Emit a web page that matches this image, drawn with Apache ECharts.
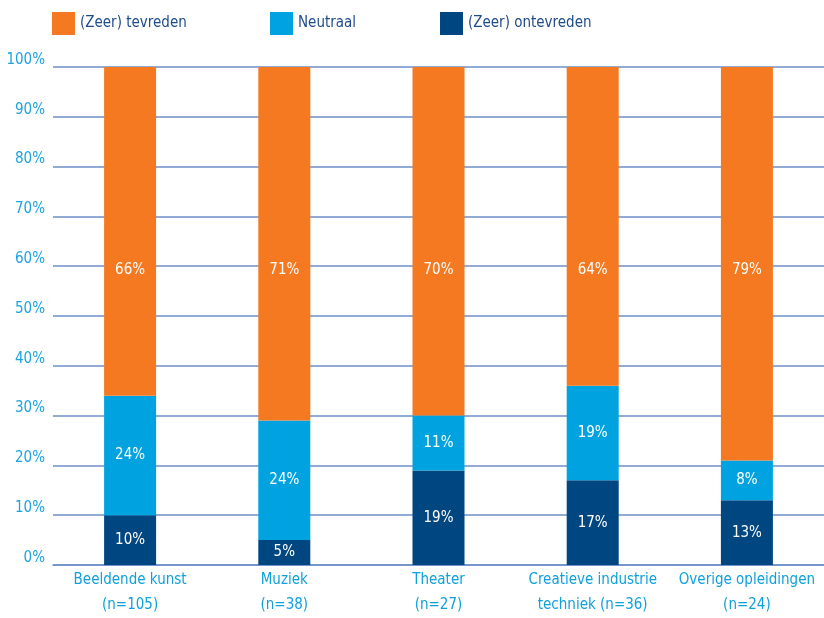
<!DOCTYPE html>
<html>
<head>
<meta charset="utf-8">
<script src="https://cdn.jsdelivr.net/npm/echarts@6/dist/echarts.min.js"></script>
<style>html,body{margin:0;padding:0;background:#fff}#c{width:824px;height:618px}</style>
</head>
<body>
<div id="c"></div>
<script>
const categories = ['Beeldende kunst\n(n=105)', 'Muziek\n(n=38)', 'Theater\n(n=27)', 'Creatieve industrie\ntechniek (n=36)', 'Overige opleidingen\n(n=24)'];
const ontevreden = [10, 5, 19, 17, 13];
const neutraal = [24, 24, 11, 19, 8];
const tevreden = [66, 71, 70, 64, 79];
const yTicks = [0, 10, 20, 30, 40, 50, 60, 70, 80, 90, 100];

const FONT = '"DejaVu Sans Condensed", "Liberation Sans Narrow", sans-serif';
const chart = echarts.init(document.getElementById('c'));
const lbl = {show: true, color: '#ffffff', fontSize: 15, fontFamily: FONT, formatter: p => p.value + '%'};
const legendBase = {top: 12, padding: 0, itemWidth: 23, itemHeight: 23, itemGap: 3, icon: 'rect',
  textStyle: {color: '#1f4b8a', fontSize: 15, fontFamily: FONT}, selectedMode: false};
chart.setOption({
  animation: false,
  legend: [
    Object.assign({}, legendBase, {left: 52, data: ['(Zeer) tevreden']}),
    Object.assign({}, legendBase, {left: 270, data: ['Neutraal']}),
    Object.assign({}, legendBase, {left: 440, data: ['(Zeer) ontevreden']})
  ],
  grid: {left: 53, right: -7, top: 67, bottom: 50},
  xAxis: {
    type: 'category', data: categories,
    axisLine: {lineStyle: {color: '#6e8fc8', width: 1.5}},
    axisTick: {show: false},
    axisLabel: {color: '#10a0dc', fontSize: 15, fontFamily: FONT, lineHeight: 25, margin: 3, interval: 0}
  },
  yAxis: {
    type: 'value', min: yTicks[0], max: yTicks[yTicks.length - 1], interval: 10,
    axisLine: {show: false}, axisTick: {show: false},
    splitLine: {lineStyle: {color: '#6e8fc8', width: 1.5}},
    axisLabel: {color: '#1ba3e2', fontSize: 15, fontFamily: FONT, margin: 8, verticalAlign: 'bottom', lineHeight: 14, formatter: v => v + '%'}
  },
  series: [
    {name: '(Zeer) ontevreden', type: 'bar', stack: 's', barWidth: 52, data: ontevreden,
      itemStyle: {color: '#004680'}, label: Object.assign({}, lbl, {position: 'inside'})},
    {name: 'Neutraal', type: 'bar', stack: 's', barWidth: 52, data: neutraal,
      itemStyle: {color: '#00a3e0'}, label: Object.assign({}, lbl, {position: 'inside'})},
    {name: '(Zeer) tevreden', type: 'bar', stack: 's', barWidth: 52, data: tevreden,
      itemStyle: {color: '#f47920'}, label: Object.assign({}, lbl, {position: ['50%', 203], align: 'center', verticalAlign: 'middle'})}
  ]
});
</script>
</body>
</html>
